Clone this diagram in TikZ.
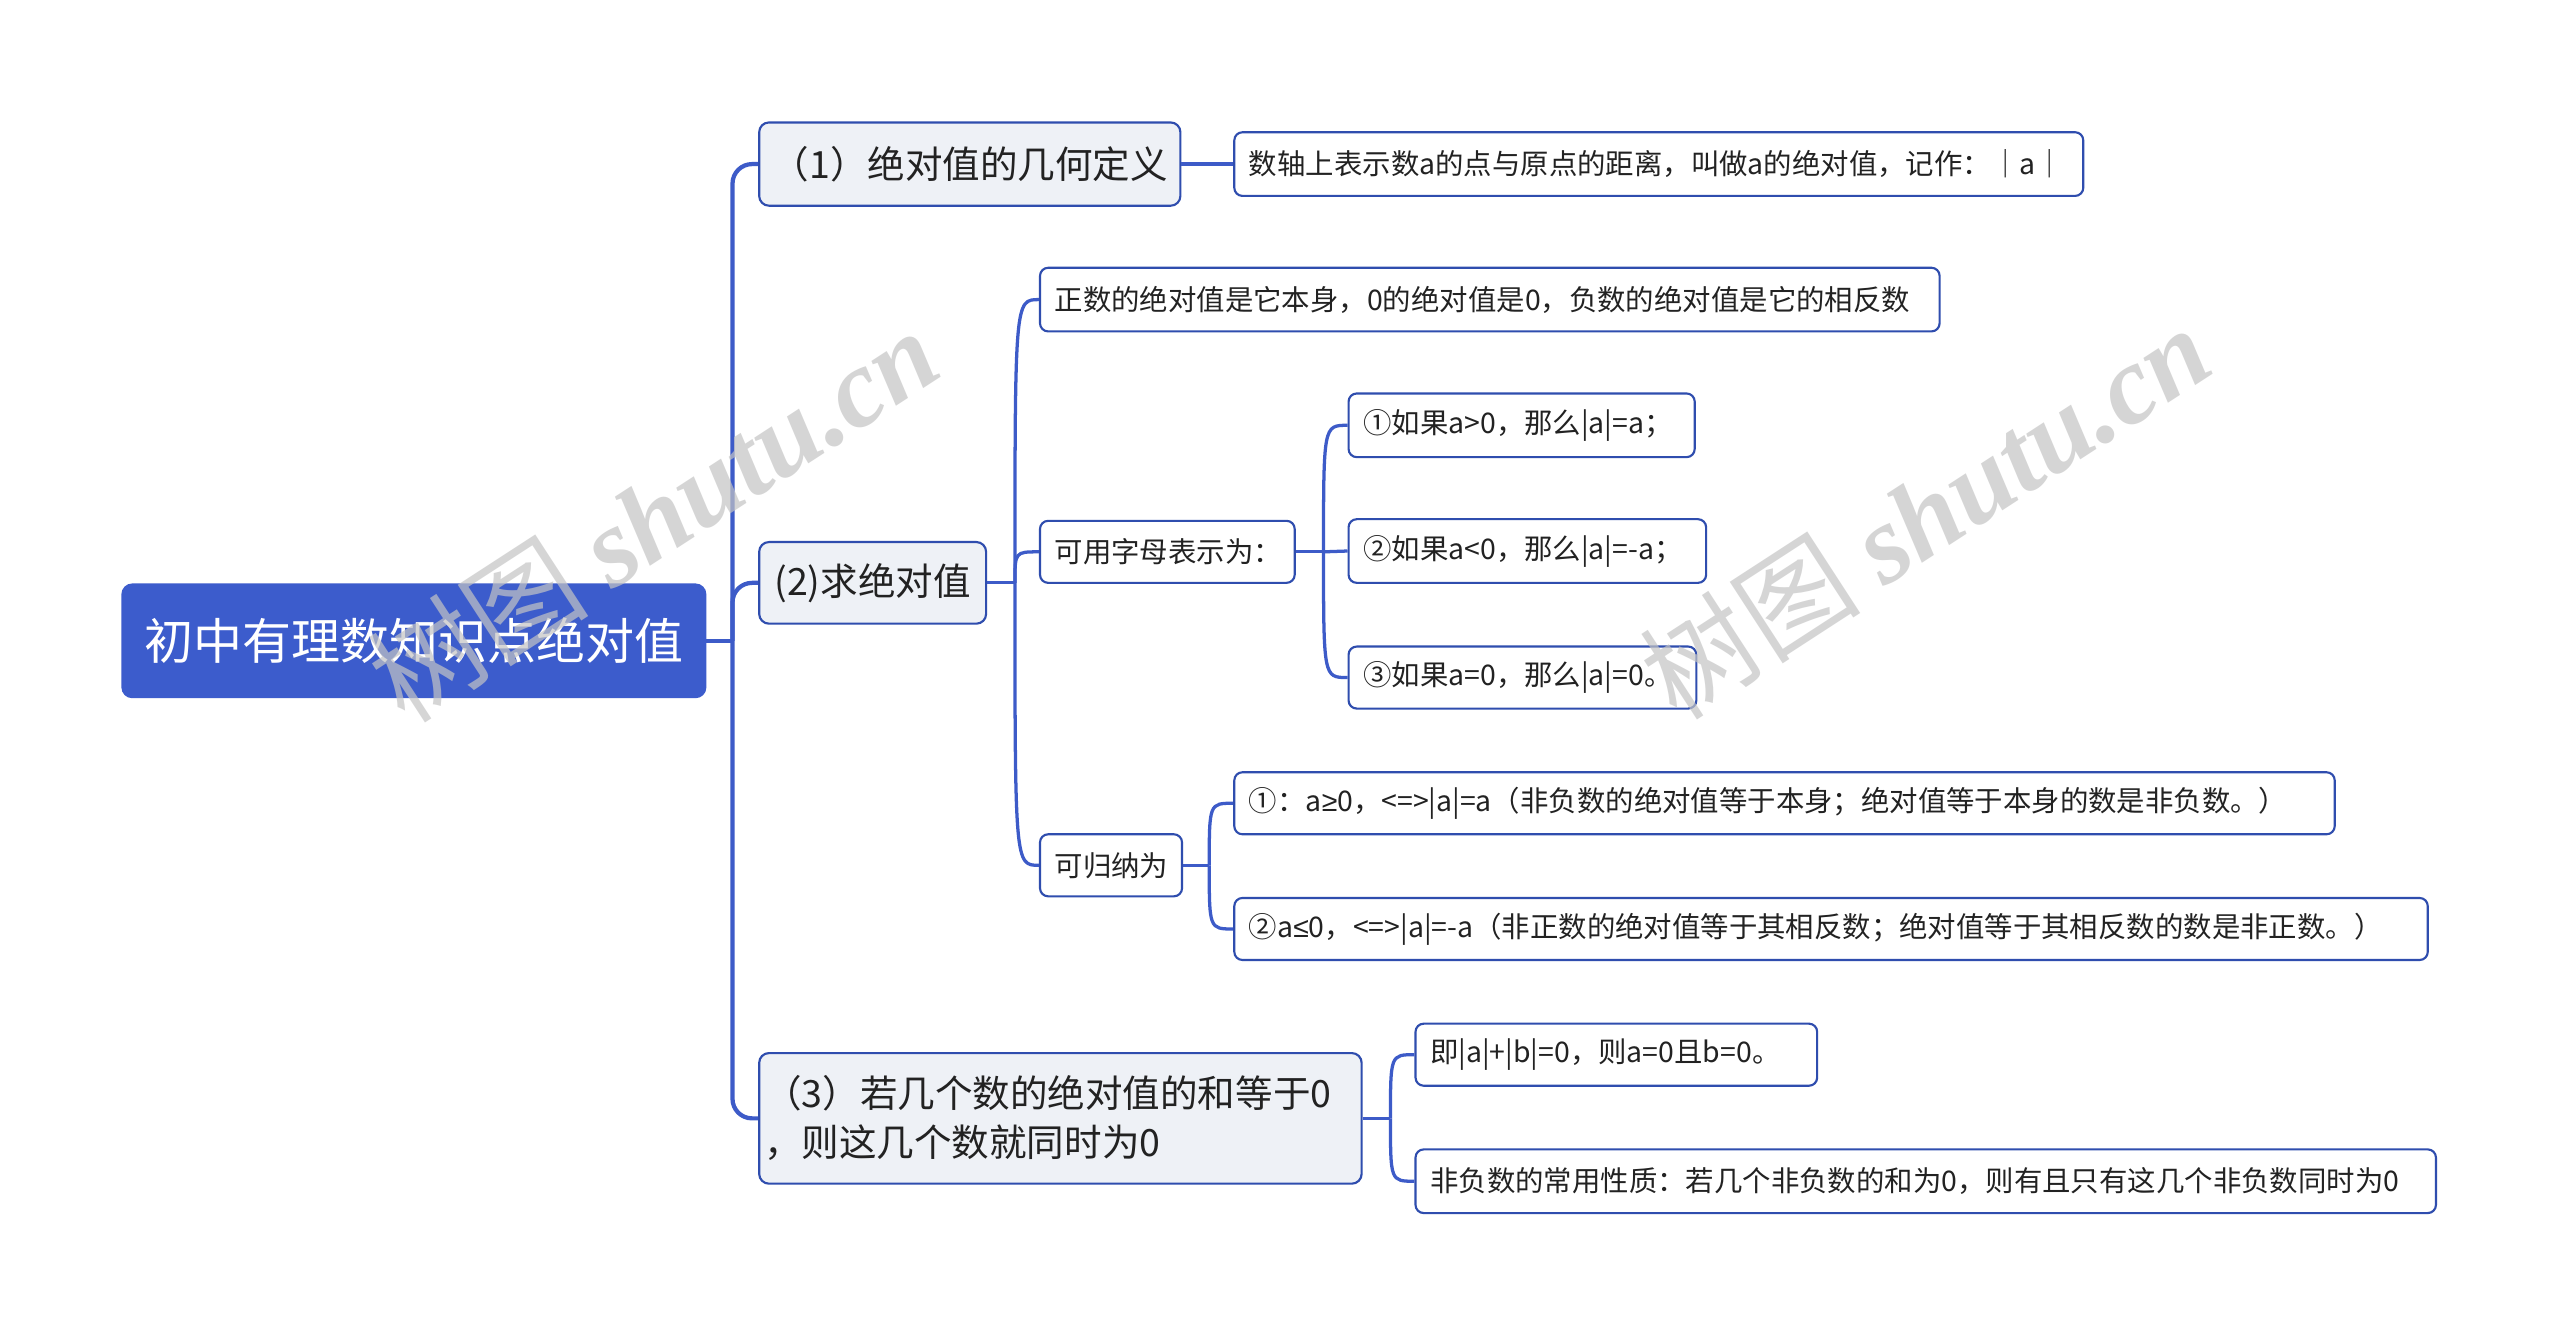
\documentclass[tikz,border=0pt]{standalone}
\usepackage{fontspec}
\setmainfont{Noto Sans CJK SC}
\newfontfamily\wmlatin{Liberation Serif}
\newfontfamily\symfont{Liberation Sans}
\usetikzlibrary{calc}
\definecolor{lineblue}{HTML}{3D5BC8}
\definecolor{rootblue}{HTML}{3C5CCC}
\definecolor{bordblue}{HTML}{2F4DAE}
\definecolor{lvfill}{HTML}{EEF1F6}
\definecolor{txt}{HTML}{222222}
\definecolor{wmgray}{RGB}{196,196,196}
\begin{document}
\begin{tikzpicture}[x=1pt,y=-1pt,
  box/.style={draw=bordblue, line width=1.3pt, rounded corners=5pt, text=txt, inner sep=0pt, align=center},
  rootbox/.style={box, fill=rootblue, draw=rootblue, rounded corners=6pt, text=white, font=\fontsize{30}{36}\selectfont},
  lone/.style={box, fill=lvfill, rounded corners=6pt, font=\fontsize{23}{30}\selectfont},
  ltwo/.style={box, fill=white, inner xsep=9pt, align=left, font=\fontsize{17.4}{20}\selectfont},
  trunk/.style={draw=lineblue, line width=2.6pt, rounded corners=12pt},
  twig/.style={draw=lineblue, line width=2pt},
  wm/.style={text=wmgray, opacity=0.7, rotate=33, inner sep=0pt}
]
\useasboundingbox (0,0) rectangle (1568,818);
\fill[white] (0,0) rectangle (1568,818);

% nodes
\node[rootbox, minimum width=357pt, minimum height=69pt] (root) at (253.5,392.5) {初中有理数知识点绝对值};

\node[lone, minimum width=258pt, minimum height=51pt] (n1) at (594,100.5) {（1）绝对值的几何定义};
\node[lone, minimum width=139pt, minimum height=50pt] (n2) at (534.5,357) {(2)求绝对值};
\node[lone, inner xsep=3pt, text width=363pt, minimum height=80pt, align=left] (n3) at (649.5,685) {（3）若几个数的绝对值的和等于0\\，则这几个数就同时为0};

\node[ltwo, text width=502pt, minimum height=39pt] (a) at (1016,100.5) {数轴上表示数a的点与原点的距离，叫做a的绝对值，记作：｜a｜};
\node[ltwo, text width=533pt, minimum height=39pt] (b) at (912.5,183.5) {正数的绝对值是它本身，0的绝对值是0，负数的绝对值是它的相反数};
\node[ltwo, text width=138pt, minimum height=38pt] (c) at (715,338) {可用字母表示为：};
\node[ltwo, text width=69pt, minimum height=38pt] (d) at (680.5,530) {可归纳为};

\node[ltwo, text width=194pt, minimum height=39pt] (c1) at (932,260.5) {①如果a>0，那么|a|=a；};
\node[ltwo, text width=201pt, minimum height=39pt] (c2) at (935.5,337.5) {②如果a<0，那么|a|=-a；};
\node[ltwo, text width=195pt, minimum height=38pt] (c3) at (932.5,415) {③如果a=0，那么|a|=0。};

\node[ltwo, text width=656pt, minimum height=38pt] (d1) at (1093,492) {①：a{\symfont ≥}0，<=>|a|=a（非负数的绝对值等于本身；绝对值等于本身的数是非负数。）};
\node[ltwo, text width=713pt, minimum height=38pt] (d2) at (1121.5,569) {②a{\symfont ≤}0，<=>|a|=-a（非正数的绝对值等于其相反数；绝对值等于其相反数的数是非正数。）};

\node[ltwo, text width=228pt, minimum height=38pt] (e1) at (990,646) {即|a|+|b|=0，则a=0且b=0。};
\node[ltwo, text width=607pt, minimum height=39pt] (e2) at (1179.5,723.5) {非负数的常用性质：若几个非负数的和为0，则有且只有这几个非负数同时为0};

% junction coordinates
\coordinate (j0) at ($(root.east)+(16,0)$);
\coordinate (j2) at ($(n2.east)+(17,0)$);
\coordinate (j3) at ($(c.east)+(17,0)$);
\coordinate (j4) at ($(d.east)+(16,0)$);
\coordinate (j5) at ($(n3.east)+(17,0)$);

% level-1 connectors
\draw[trunk] (root.east) -- (j0);
\draw[trunk] (j0) |- (n1.west);
\draw[trunk] (j0) |- (n2.west);
\draw[trunk] (j0) |- (n3.west);

% level-2 connectors
\draw[twig] (n1.east) -- (a.west);

\draw[twig] (n2.east) -- (j2);
\draw[twig] (j2) .. controls (j2 |- b.west) .. (b.west);
\draw[twig] (j2) .. controls (j2 |- c.west) .. (c.west);
\draw[twig] (j2) .. controls (j2 |- d.west) .. (d.west);

\draw[twig] (c.east) -- (j3);
\draw[twig] (j3) .. controls (j3 |- c1.west) .. (c1.west);
\draw[twig] (j3) -- (c2.west);
\draw[twig] (j3) .. controls (j3 |- c3.west) .. (c3.west);

\draw[twig] (d.east) -- (j4);
\draw[twig] (j4) .. controls (j4 |- d1.west) .. (d1.west);
\draw[twig] (j4) .. controls (j4 |- d2.west) .. (d2.west);

\draw[twig] (n3.east) -- (j5);
\draw[twig] (j5) .. controls (j5 |- e1.west) .. (e1.west);
\draw[twig] (j5) .. controls (j5 |- e2.west) .. (e2.west);

% watermarks
\node[wm] (wm1) at (400,315) {\fontsize{68}{76}\selectfont 树图 {\wmlatin\bfseries\itshape shutu.cn}};
\node[wm] (wm2) at (1179,313) {\fontsize{68}{76}\selectfont 树图 {\wmlatin\bfseries\itshape shutu.cn}};
\end{tikzpicture}
\end{document}
